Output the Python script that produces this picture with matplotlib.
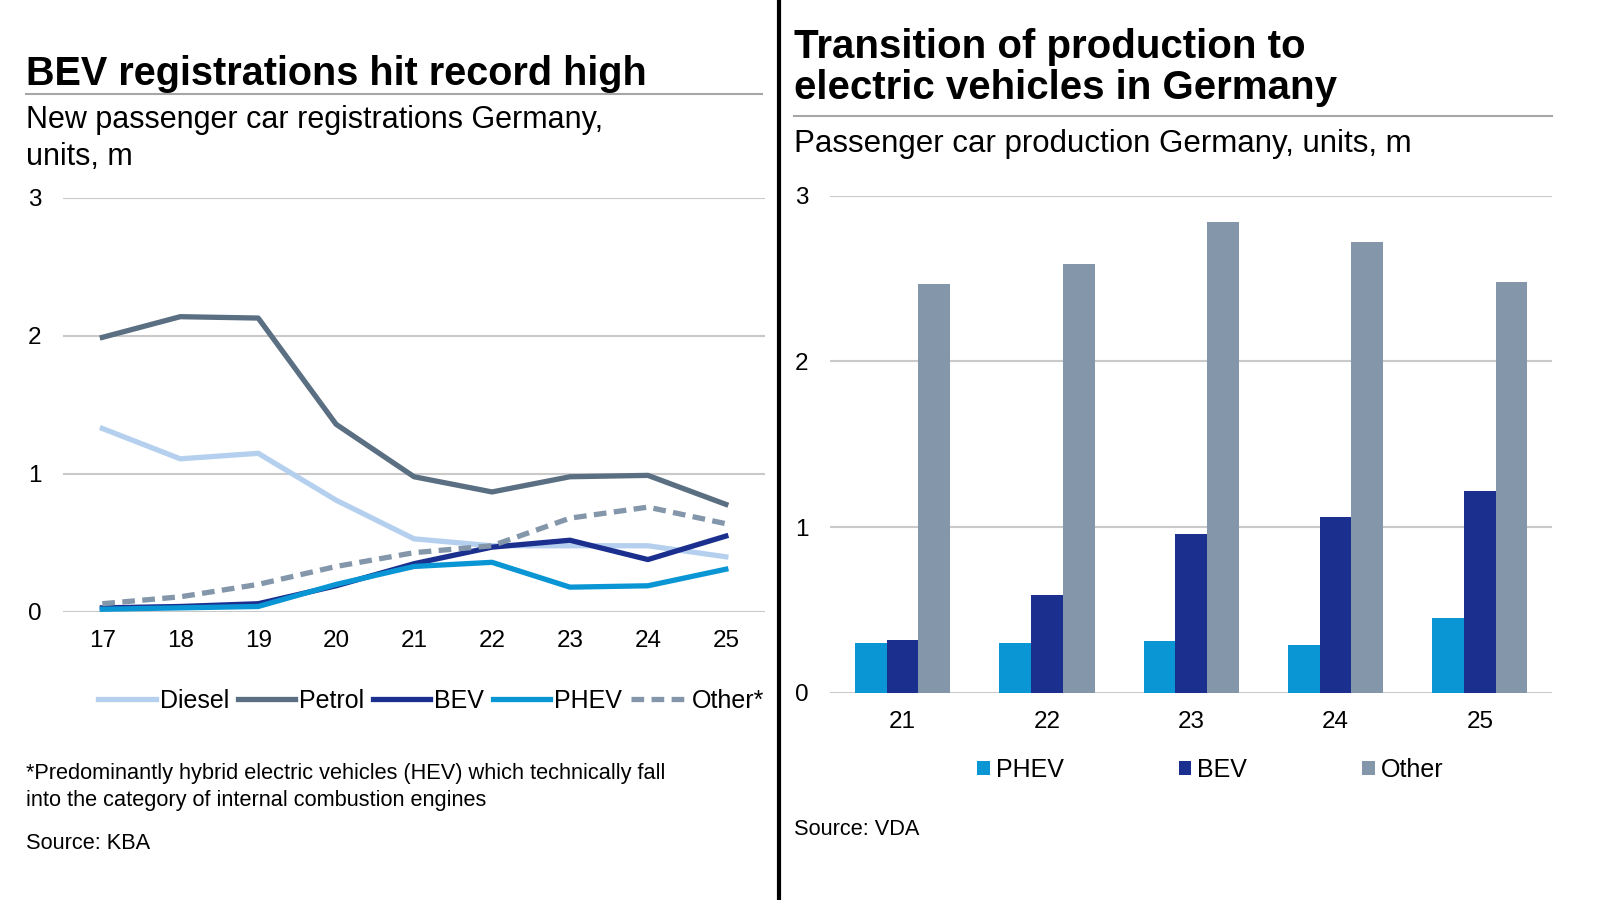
import matplotlib
matplotlib.use('Agg')
from matplotlib import pyplot as plt
from matplotlib.lines import Line2D
import numpy as np

plt.rcParams['font.family'] = ['Liberation Sans', 'DejaVu Sans']

# left chart: new registrations, units m
years = [17, 18, 19, 20, 21, 22, 23, 24, 25]
diesel = [1.33, 1.11, 1.15, 0.81, 0.53, 0.48, 0.48, 0.48, 0.40]
petrol = [1.99, 2.14, 2.13, 1.36, 0.98, 0.87, 0.98, 0.99, 0.78]
bev = [0.03, 0.04, 0.06, 0.19, 0.35, 0.47, 0.52, 0.38, 0.55]
phev = [0.02, 0.03, 0.04, 0.20, 0.33, 0.36, 0.18, 0.19, 0.31]
other = [0.06, 0.11, 0.20, 0.33, 0.43, 0.48, 0.68, 0.76, 0.64]

# right chart: production, units m
prod_years = ['21', '22', '23', '24', '25']
prod_phev = [0.30, 0.30, 0.31, 0.29, 0.45]
prod_bev = [0.32, 0.59, 0.96, 1.06, 1.22]
prod_other = [2.47, 2.59, 2.84, 2.72, 2.48]

C_DIESEL = '#b5d0ef'
C_PETROL = '#5b6f83'
C_BEV = '#1b2f8e'
C_PHEV = '#0a96d4'
C_OTHER = '#8396aa'
C_GRID = '#c9c9c9'

fig = plt.figure(figsize=(16, 9), dpi=100)


def style_axes(ax):
    for s in ax.spines.values():
        s.set_visible(False)
    ax.grid(axis='y', color=C_GRID, lw=1.5)
    ax.set_axisbelow(True)
    ax.tick_params(length=0, labelsize=17.5, colors='black')
    ax.tick_params(axis='y', pad=16)
    ax.tick_params(axis='x', pad=13)
    ax.set_ylim(0, 3)
    ax.set_yticks([0, 1, 2, 3])


# ---- left: lines
ax1 = fig.add_axes([0.0396, 0.320, 0.4384, 0.460])
style_axes(ax1)
lw = 3.8
ax1.plot(years, diesel, color=C_DIESEL, lw=lw, label='Diesel')
ax1.plot(years, petrol, color=C_PETROL, lw=lw, label='Petrol')
ax1.plot(years, bev, color=C_BEV, lw=lw, label='BEV')
ax1.plot(years, phev, color=C_PHEV, lw=lw, label='PHEV')
ax1.plot(years, other, color=C_OTHER, lw=lw, ls=(0, (2.4, 1.4)), label='Other*')
ax1.set_xlim(16.5, 25.5)
ax1.set_xticks(years)
ax1.set_xticklabels([str(y) for y in years])
fig.legend(*ax1.get_legend_handles_labels(), loc='center', bbox_to_anchor=(0.2696, 0.2213),
           ncol=5, frameon=False, fontsize=18, handlelength=2.3, handletextpad=0.15,
           columnspacing=0.35, borderaxespad=0)

# ---- right: bars
ax2 = fig.add_axes([0.519, 0.2304, 0.451, 0.552])
style_axes(ax2)
x = np.arange(len(prod_years))
w = 0.22
b1 = ax2.bar(x - w, prod_phev, w, color=C_PHEV, label='PHEV')
b2 = ax2.bar(x, prod_bev, w, color=C_BEV, label='BEV')
b3 = ax2.bar(x + w, prod_other, w, color=C_OTHER, label='Other')
ax2.set_xlim(-0.5, 4.5)
ax2.set_xticks(x)
ax2.set_xticklabels(prod_years)
fig.legend([b1, b2, b3], ['PHEV', 'BEV', 'Other'], loc='center', bbox_to_anchor=(0.7565, 0.1442),
           ncol=3, frameon=False, fontsize=18, handlelength=0.5, handleheight=0.5,
           handletextpad=0.25, columnspacing=4.6, borderaxespad=0)

# ---- titles and notes
fig.text(0.016, 0.9058, 'BEV registrations hit record high', fontsize=28.5, fontweight='bold', va='baseline')
fig.add_artist(Line2D([0.016, 0.476], [0.8956, 0.8956], transform=fig.transFigure, color='#a6a6a6', lw=1.5))
fig.text(0.016, 0.858, 'New passenger car registrations Germany,', fontsize=22, va='baseline')
fig.text(0.016, 0.817, 'units, m', fontsize=22, va='baseline')

fig.text(0.4965, 0.9353, 'Transition of production to', fontsize=29, fontweight='bold', va='baseline')
fig.text(0.4965, 0.8899, 'electric vehicles in Germany', fontsize=29, fontweight='bold', va='baseline')
fig.add_artist(Line2D([0.4965, 0.970], [0.8706, 0.8706], transform=fig.transFigure, color='#a6a6a6', lw=1.5))
fig.text(0.4965, 0.8309, 'Passenger car production Germany, units, m', fontsize=22.5, va='baseline')

fig.text(0.016, 0.134, '*Predominantly hybrid electric vehicles (HEV) which technically fall',
         fontsize=15.7, va='baseline')
fig.text(0.016, 0.1044, 'into the category of internal combustion engines', fontsize=15.7, va='baseline')
fig.text(0.016, 0.0568, 'Source: KBA', fontsize=15.7, va='baseline')
fig.text(0.4965, 0.0726, 'Source: VDA', fontsize=15.7, va='baseline')

# divider between the two panels
fig.add_artist(Line2D([0.4869, 0.4869], [0, 1], transform=fig.transFigure, color='black', lw=3))

fig.savefig('out.png', dpi=100, facecolor='white')
